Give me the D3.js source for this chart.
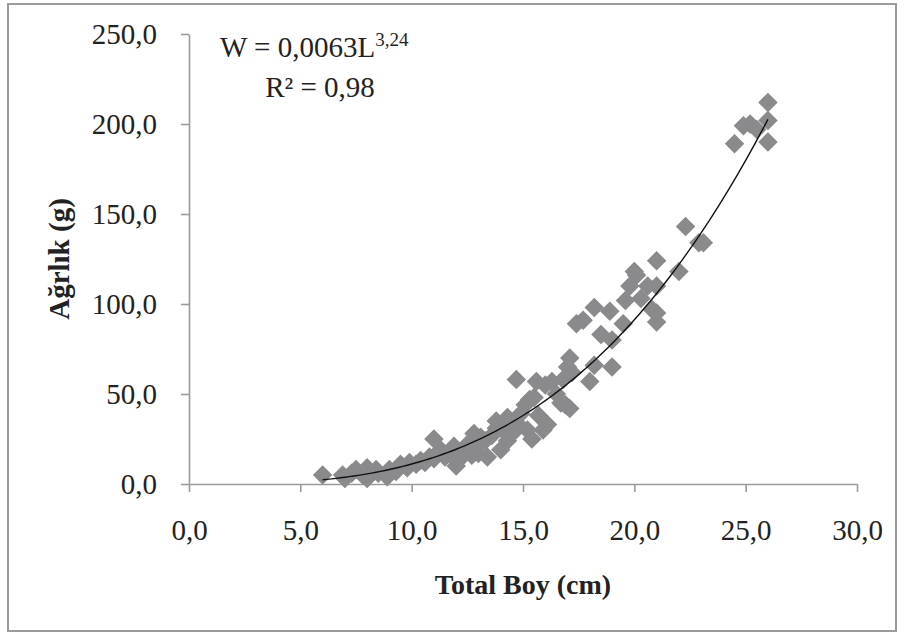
<!DOCTYPE html>
<html>
<head>
<meta charset="utf-8">
<script src="https://cdn.jsdelivr.net/npm/d3@7"></script>
<style>
	body { margin: 0; background: #fff; }
	svg { display: block; }
	.axis text { font-family: "Liberation Serif", "DejaVu Serif", serif; font-size: 29px; fill: #222; }
	.axis path, .axis line { stroke: #9a9a9a; stroke-width: 1.6; }
</style>
</head>
<body>
<div id="chart"></div>
<script>
//data
let lengthCm = [6.0, 6.9, 7.0, 7.3, 7.5, 7.8, 8.0, 8.0, 8.4, 8.5, 8.9, 9.0, 9.3, 9.5, 9.8, 9.9,
	10.2, 10.4, 10.6, 10.8, 11.0, 11.0, 11.3, 11.5, 11.7, 11.9, 12.0, 12.1, 12.3, 12.5, 12.7, 12.8,
	12.8, 13.0, 13.1, 13.3, 13.4, 13.6, 13.8, 13.8, 14.0, 14.1, 14.3, 14.3, 14.5, 14.6, 14.7, 14.8,
	14.9, 15.1, 15.2, 15.3, 15.4, 15.5, 15.6, 15.7, 15.9, 16.0, 16.1, 16.3, 16.5, 16.7, 16.8, 16.9,
	17.0, 17.1, 17.2, 17.1, 17.4, 17.7, 18.0, 18.2, 18.2, 18.5, 18.9, 19.0, 19.0, 19.5, 19.6, 19.8,
	20.0, 20.1, 20.3, 20.6, 20.8, 21.0, 21.0, 21.0, 21.0, 22.0, 22.3, 22.9, 23.1, 24.5, 24.9, 25.2,
	25.5, 26.0, 26.0, 26.0];
let weightG = [5, 5, 3, 6, 8, 5, 9, 3, 8, 6, 4, 8, 7, 11, 9, 12,
	11, 13, 12, 15, 25, 14, 19, 15, 17, 21, 10, 13, 18, 22, 16, 28,
	20, 17, 26, 24, 15, 27, 35, 31, 19, 30, 24, 37, 34, 29, 58, 33,
	39, 44, 30, 47, 25, 48, 57, 38, 30, 55, 33, 57, 50, 45, 58, 44,
	65, 42, 62, 70, 89, 91, 57, 66, 98, 83, 96, 65, 80, 89, 102, 110,
	118, 116, 103, 110, 97, 124, 110, 95, 90, 118, 143, 134, 134, 189, 199, 200,
	197, 212, 202, 190];

let xTicks = [0, 5, 10, 15, 20, 25, 30];
let yTicks = [0, 50, 100, 150, 200, 250];

let xTitle = "Total Boy (cm)";
let yTitle = "Ağrlık (g)";
let eqMain = "W = 0,0063L";
let eqPower = "3,24";
let eqR2 = "R² = 0,98";


function graph(){

	let width = 904;
	let height = 633;
	let margin = {top: 34, right: 47, bottom: 149, left: 189};

	let svg = d3.select("#chart")
		.append("svg")
		.attr("width", width)
		.attr("height", height);

	//outer frame
	svg.append("rect")
		.attr("x", 8)
		.attr("y", 4)
		.attr("width", 888)
		.attr("height", 627)
		.attr("fill", "#fff")
		.attr("stroke", "#9a9a9a")
		.attr("stroke-width", 2);

	let data = lengthCm.map((l, i) => ({l: l, w: weightG[i]}));

	const xScale = d3.scaleLinear()
		.domain([0, 30])
		.range([margin.left, width - margin.right]);

	const yScale = d3.scaleLinear()
		.domain([0, 250])
		.range([height - margin.bottom, margin.top]);

	//comma decimals
	let fmt = (v) => d3.format(".1f")(v).replace(".", ",");

	const xAxis = d3.axisBottom(xScale)
		.tickValues(xTicks)
		.tickFormat(fmt)
		.tickSize(8)
		.tickSizeOuter(0)
		.tickPadding(27);

	const yAxis = d3.axisLeft(yScale)
		.tickValues(yTicks)
		.tickFormat(fmt)
		.tickSize(8)
		.tickSizeOuter(0)
		.tickPadding(24);

	svg.append("g")
		.attr("class", "axis x_axis")
		.attr("transform", `translate(0,${yScale(0)})`)
		.call(xAxis);

	svg.append("g")
		.attr("class", "axis y_axis")
		.attr("transform", `translate(${xScale(0)},0)`)
		.call(yAxis);

	//points
	let diamond = d3.symbol().type(d3.symbolSquare).size(190);

	svg.append("g")
		.selectAll("path")
		.data(data)
		.enter()
		.append("path")
		.attr("d", diamond)
		.attr("transform", (d) => `translate(${xScale(d.l)},${yScale(d.w)}) rotate(45)`)
		.attr("fill", "#8a8a8c");

	//power trend line, least squares on log-log
	let lx = data.map((d) => Math.log(d.l));
	let ly = data.map((d) => Math.log(d.w));
	let mx = d3.mean(lx), my = d3.mean(ly);
	let b = d3.sum(lx, (v, i) => (v - mx) * (ly[i] - my)) / d3.sum(lx, (v) => (v - mx) * (v - mx));
	let a = Math.exp(my - b * mx);

	let lMin = d3.min(lengthCm), lMax = d3.max(lengthCm);
	let curve = d3.range(0, 101).map((i) => {
		let l = lMin + (lMax - lMin) * i / 100;
		return [l, a * Math.pow(l, b)];
	});

	svg.append("path")
		.datum(curve)
		.attr("fill", "none")
		.attr("stroke", "#111")
		.attr("stroke-width", 1.4)
		.attr("d", d3.line().x((d) => xScale(d[0])).y((d) => yScale(d[1])));

	//equation
	let eq = svg.append("text")
		.attr("x", 220)
		.attr("y", 57)
		.attr("font-family", "Liberation Serif, serif")
		.attr("font-size", 29)
		.attr("fill", "#222");
	eq.append("tspan").text(eqMain);
	eq.append("tspan")
		.attr("font-size", 19)
		.attr("dy", -11)
		.text(eqPower);

	svg.append("text")
		.attr("x", 320)
		.attr("y", 97)
		.attr("text-anchor", "middle")
		.attr("font-family", "Liberation Serif, serif")
		.attr("font-size", 29)
		.attr("fill", "#222")
		.text(eqR2);

	//axis titles
	svg.append("text")
		.attr("x", 523)
		.attr("y", 594)
		.attr("text-anchor", "middle")
		.attr("font-family", "Liberation Serif, serif")
		.attr("font-weight", "bold")
		.attr("font-size", 28)
		.attr("fill", "#222")
		.text(xTitle);

	svg.append("text")
		.attr("transform", "translate(69,259) rotate(-90)")
		.attr("text-anchor", "middle")
		.attr("font-family", "Liberation Serif, serif")
		.attr("font-weight", "bold")
		.attr("font-size", 29)
		.attr("fill", "#222")
		.text(yTitle);

}

graph();
</script>
</body>
</html>
